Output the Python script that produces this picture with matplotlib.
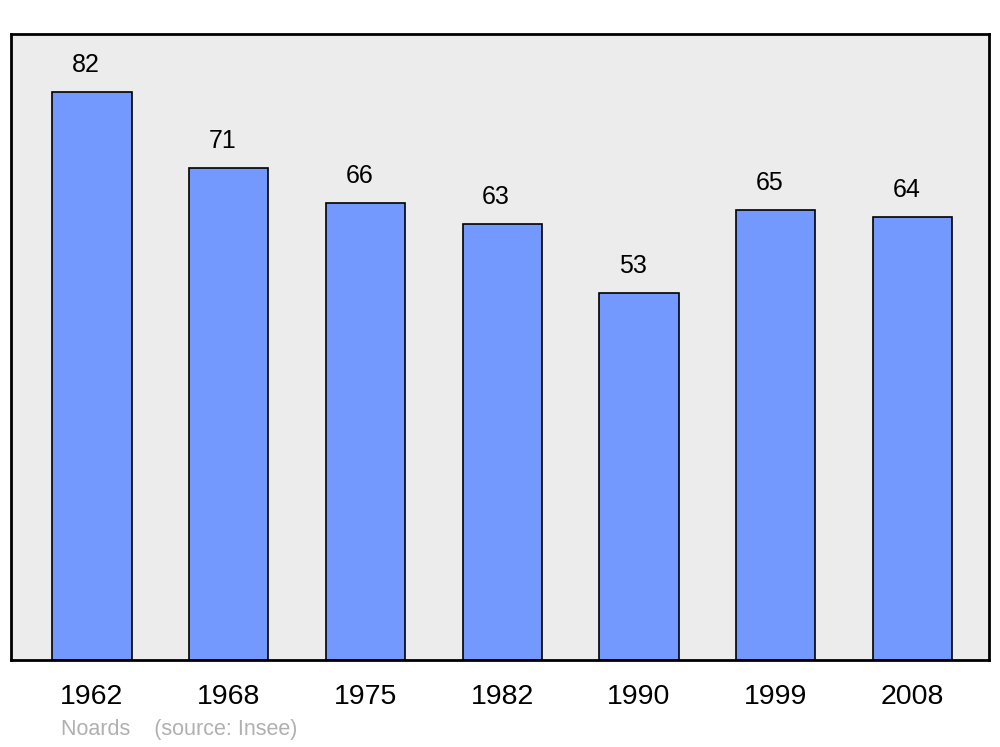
import numpy as np
from matplotlib import pyplot as plt

plt.rcParams['font.family'] = ['Liberation Sans', 'DejaVu Sans']

# population by census year
years = ["1962", "1968", "1975", "1982", "1990", "1999", "2008"]
population = [82, 71, 66, 63, 53, 65, 64]

fig = plt.figure(figsize=(10, 7.47), dpi=100)
ax = fig.add_axes([0.011, 1 - 660 / 747, 0.978, 626 / 747])
ax.set_facecolor("#ececec")

x = np.arange(len(years))
ax.bar(x, population, width=0.58, color="#7399ff", edgecolor="black", linewidth=1.2)

for xi, v in zip(x, population):
    ax.annotate(str(v), (xi - 0.045, v), xytext=(0, 19.5), textcoords="offset points",
                ha="center", va="center", fontsize=18)

ax.set_xlim(-0.592, 6.56)
ax.set_ylim(0, 90.4)
ax.set_xticks(x)
ax.set_xticklabels(years, fontsize=20.5)
ax.tick_params(axis="x", length=0, pad=17.5)
ax.set_yticks([])
for s in ax.spines.values():
    s.set_linewidth(2)

fig.text(0.061, 1 - 730 / 747, "Noards    (source: Insee)", fontsize=15.5,
         color="#b0b0b0", va="center", ha="left")

fig.savefig("out.png", dpi=100)
